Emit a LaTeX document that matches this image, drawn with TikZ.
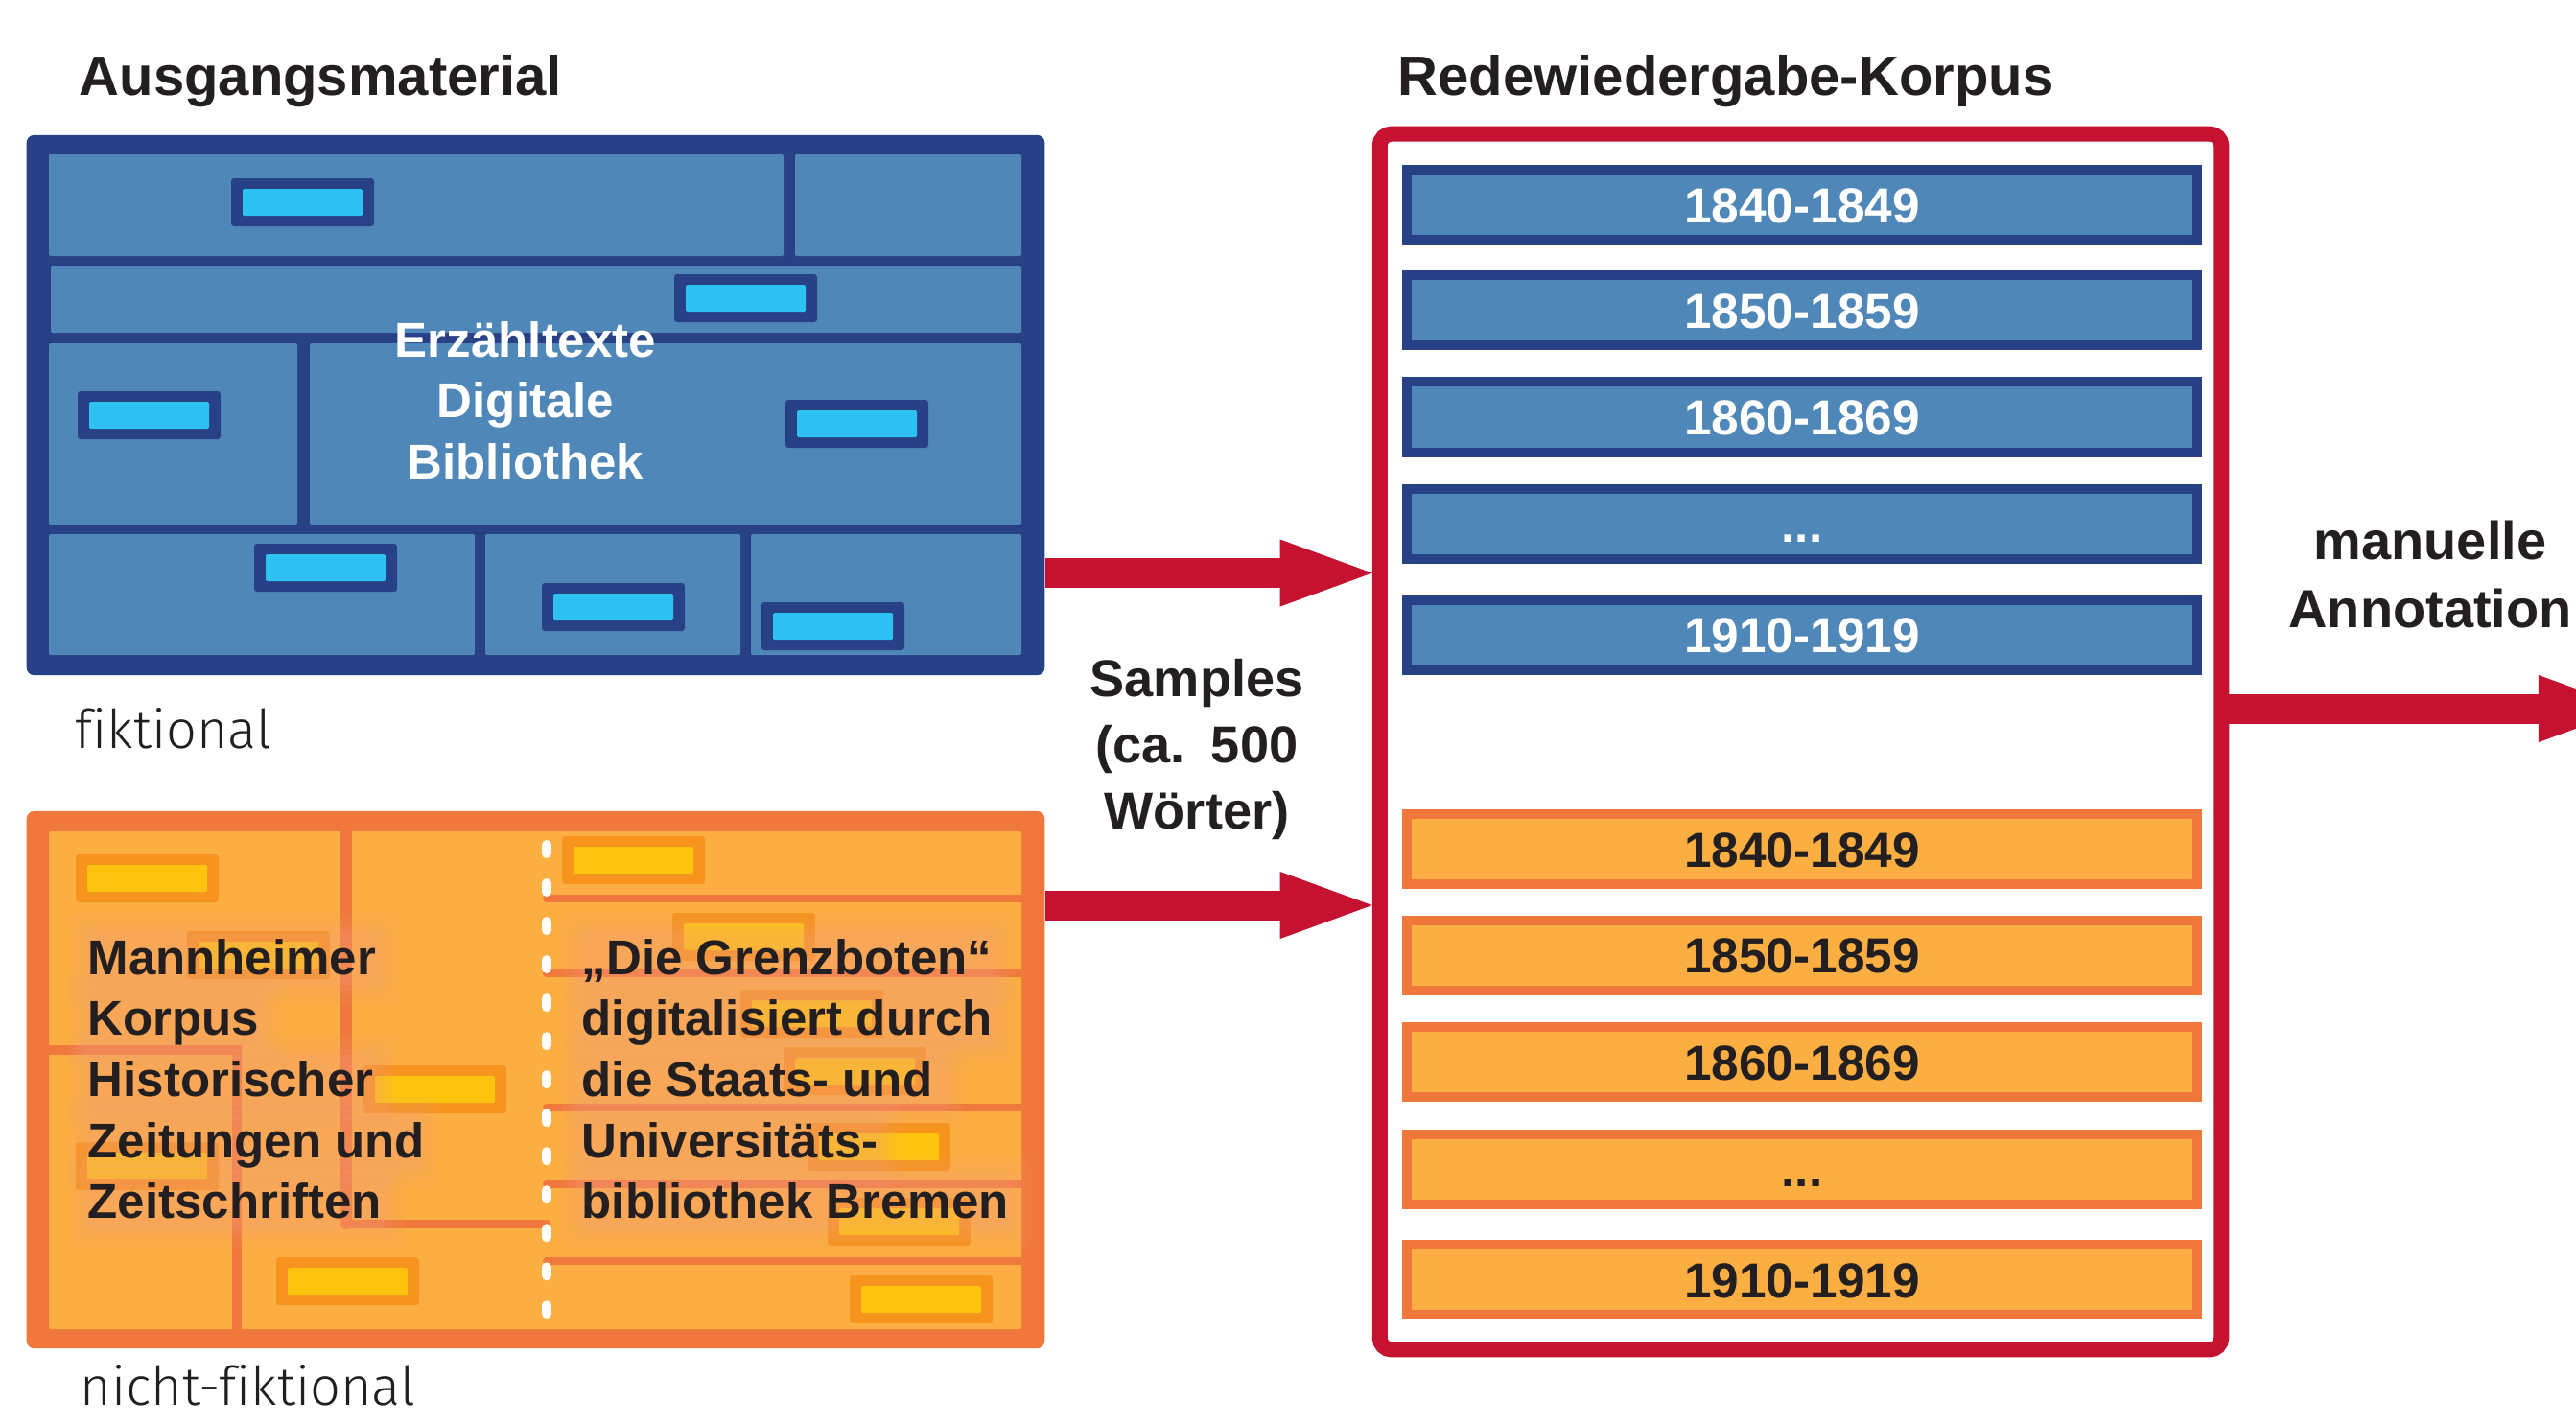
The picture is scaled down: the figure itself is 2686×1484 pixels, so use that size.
\documentclass[tikz,border=0pt]{standalone}
\usepackage{fontspec}
\setmainfont{Liberation Sans}
\newfontfamily\lightfont{Fira Sans}[UprightFont=* Light, Ligatures=NoCommon]
\usetikzlibrary{arrows.meta}
\definecolor{navy}{RGB}{40,64,133}
\definecolor{steel}{RGB}{79,135,184}
\definecolor{cyanbar}{RGB}{46,194,242}
\definecolor{orangeedge}{RGB}{241,120,60}
\definecolor{orangefill}{RGB}{251,175,66}
\definecolor{yellowbar}{RGB}{253,196,15}
\definecolor{yellowedge}{RGB}{247,148,30}
\definecolor{redc}{RGB}{196,18,48}
\definecolor{ink}{RGB}{35,31,32}
\definecolor{glowc}{RGB}{244,160,125}
\newcommand\minibar[4]{%
  \fill[#3, rounded corners=0.03cm] (#1,#2) rectangle ++(149,50);
  \fill[#4, rounded corners=0.015cm] (#1+12,#2+11) rectangle ++(125,28);}
\tikzset{
  titletext/.style={font=\fontsize{16.5pt}{20pt}\selectfont\bfseries, text=ink, inner sep=0pt, anchor=base west},
  labeltext/.style={font=\fontsize{15.9pt}{19pt}\lightfont, text=ink, inner sep=0pt, anchor=base west},
  outerbox/.style={rounded corners=0.08cm, inner sep=0pt, minimum width=10.61cm},
  decade/.style={minimum width=8.24cm, minimum height=0.73cm, line width=0.1cm, inner sep=0pt,
    text height=0.37cm, text depth=0pt, font=\fontsize{14.6pt}{17pt}\selectfont\bfseries},
  decadeblue/.style={decade, draw=navy, fill=steel, text=white},
  decadeorange/.style={decade, draw=orangeedge, fill=orangefill, text=ink},
  bigarrow/.style={draw=redc, line width=0.31cm, -{Triangle[length=0.96cm, width=0.70cm, line width=0pt]}},
  boxtext/.style={font=\fontsize{14.5pt}{18.1pt}\selectfont\bfseries, inner sep=0pt},
  sidetext/.style={text=ink, align=center, anchor=north, inner sep=0pt},
  divider/.style={draw=orangeedge, line cap=round},
}
\begin{document}
\begin{tikzpicture}[x=0.01cm, y=-0.01cm]
\useasboundingbox (0,0) rectangle (2686,1484);
\clip (0,0) rectangle (2686,1484);

% titles
\node[titletext] (t1) at (82,99) {Ausgangsmaterial};
\node[titletext] (t2) at (1457,99) {Redewiedergabe-Korpus};

% ---------- fictional source (blue)
\node[outerbox, fill=navy, minimum height=5.63cm] (fik) at (558.5,422.5) {};
\fill[steel, rounded corners=0.02cm] (51,161) rectangle (817,267);
\fill[steel, rounded corners=0.02cm] (829,161) rectangle (1065,267);
\fill[steel, rounded corners=0.02cm] (53,277) rectangle (1065,347);
\fill[steel, rounded corners=0.02cm] (51,358) rectangle (310,547);
\fill[steel, rounded corners=0.02cm] (323,358) rectangle (1065,547);
\fill[steel, rounded corners=0.02cm] (51,557) rectangle (495,683);
\fill[steel, rounded corners=0.02cm] (506,557) rectangle (772,683);
\fill[steel, rounded corners=0.02cm] (783,557) rectangle (1065,683);
\minibar{241}{186}{navy}{cyanbar}
\minibar{703}{286}{navy}{cyanbar}
\minibar{81}{408}{navy}{cyanbar}
\minibar{819}{417}{navy}{cyanbar}
\minibar{265}{567}{navy}{cyanbar}
\minibar{565}{608}{navy}{cyanbar}
\minibar{794}{628}{navy}{cyanbar}
\node[boxtext, text=white, align=center, anchor=north] (erz) at (548,334.5) {Erzähltexte\\Digitale\\Bibliothek};
\node[labeltext] (l1) at (78,780) {fiktional};

% ---------- non-fictional source (orange)
\node[outerbox, fill=orangeedge, minimum height=5.60cm] (nfik) at (558.5,1126) {};
\fill[orangefill, rounded corners=0.02cm] (51,867) rectangle (1065,1386);
\minibar{79}{891}{yellowedge}{yellowbar}
\minibar{586}{872}{yellowedge}{yellowbar}
\minibar{379}{1111}{yellowedge}{yellowbar}
\minibar{288}{1311}{yellowedge}{yellowbar}
\minibar{886}{1330}{yellowedge}{yellowbar}
\minibar{195}{971}{yellowedge}{yellowbar}
\minibar{701}{952}{yellowedge}{yellowbar}
\minibar{772}{1032}{yellowedge}{yellowbar}
\minibar{817}{1092}{yellowedge}{yellowbar}
\minibar{842}{1171}{yellowedge}{yellowbar}
\minibar{79}{1191}{yellowedge}{yellowbar}
\minibar{863}{1249}{yellowedge}{yellowbar}
\draw[divider, line width=0.12cm] (361,867) -- (361,1276);
\draw[divider, line width=0.10cm] (51,1095) -- (247,1095) -- (247,1386);
\draw[divider, line width=0.09cm] (361,1276) -- (570,1276);
\foreach \yy in {937,1015,1155,1235,1315}
  \draw[divider, line width=0.08cm] (570,\yy) -- (1065,\yy);
\draw[white, line width=0.1cm, line cap=round, dash pattern=on 0.09cm off 0.31cm] (570,881) -- (570,1370);
% soft glow behind each text line
\foreach \xa/\yb/\w in {93/1015/300, 93/1078.6/179, 93/1142.2/298, 93/1205.8/341, 93/1269.4/306,
                        608/1015/428, 608/1078.6/428, 608/1142.2/376, 608/1205.8/309, 608/1269.4/445}{
  \foreach \p/\o in {22/0.08, 15/0.10, 8/0.12, 2/0.14}{
    \fill[glowc, opacity=\o, rounded corners=0.1cm] (\xa-\p,\yb-40-\p) rectangle (\xa+\w+\p,\yb+10+\p);
  }
}
\node[boxtext, text=ink, align=left, anchor=north west] (mhk) at (91,978.5)
  {Mannheimer\\Korpus\\Historischer\\Zeitungen und\\Zeitschriften};
\node[boxtext, text=ink, align=left, anchor=north west] (gb) at (606,978.5)
  {„Die Grenzboten“\\digitalisiert durch\\die Staats- und\\Universitäts-\\bibliothek Bremen};
\node[labeltext] (l2) at (83,1465) {nicht-fiktional};

% ---------- corpus (red frame)
\node[draw=redc, line width=0.16cm, rounded corners=0.12cm, minimum width=8.77cm,
      minimum height=12.67cm, inner sep=0pt] (korpus) at (1877.5,773.5) {};
\node[decadeblue] (b1) at (1879,213.5) {1840-1849};
\node[decadeblue] (b2) at (1879,323.5) {1850-1859};
\node[decadeblue] (b3) at (1879,435) {1860-1869};
\node[decadeblue] (b4) at (1879,546.5) {...};
\node[decadeblue] (b5) at (1879,662) {1910-1919};
\node[decadeorange] (o1) at (1879,885.5) {1840-1849};
\node[decadeorange] (o2) at (1879,996) {1850-1859};
\node[decadeorange] (o3) at (1879,1107.5) {1860-1869};
\node[decadeorange] (o4) at (1879,1219) {...};
\node[decadeorange] (o5) at (1879,1334.5) {1910-1919};

% ---------- labels and arrows
\node[sidetext, font=\fontsize{15.4pt}{19.5pt}\selectfont\bfseries] (samp) at (1248,687)
  {Samples\\(ca.\enspace500\\Wörter)};
\node[sidetext, font=\fontsize{15.9pt}{20.2pt}\selectfont\bfseries] (anno) at (2534,542)
  {manuelle\\Annotation};
\coordinate (ya) at (0,597.5);
\coordinate (yb) at (0,944);
\coordinate (out) at (2743,739);
\draw[bigarrow] (fik.east |- ya) -- (korpus.west |- ya);
\draw[bigarrow] (nfik.east |- yb) -- (korpus.west |- yb);
\draw[bigarrow] (korpus.east |- out) -- (out);
\end{tikzpicture}
\end{document}
